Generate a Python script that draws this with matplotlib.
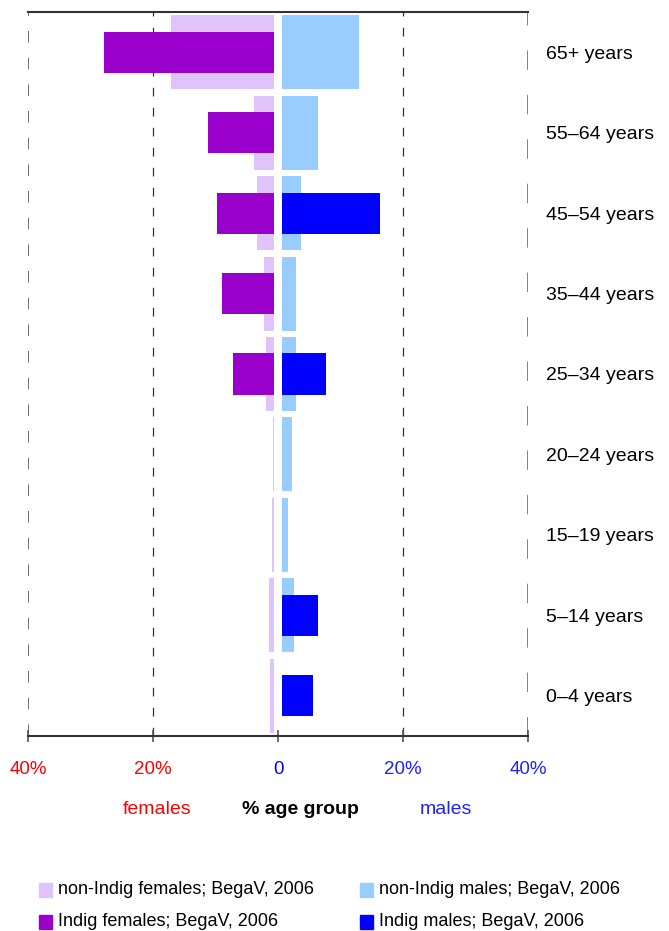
import matplotlib.pyplot as plt
import numpy as np

plt.rcParams['font.family'] = ['Liberation Sans', 'DejaVu Sans']

ages = ["0–4 years", "5–14 years", "15–19 years", "20–24 years", "25–34 years",
        "35–44 years", "45–54 years", "55–64 years", "65+ years"]
# percent of age group, bottom (0-4) to top (65+)
nonindig_f = [0.65, 0.8, 0.35, 0.2, 1.3, 1.6, 2.8, 3.2, 16.5]
indig_f = [0, 0, 0, 0, 6.6, 8.4, 9.1, 10.6, 27.2]
nonindig_m = [0.05, 1.9, 1.0, 1.55, 2.2, 2.2, 3.0, 5.7, 12.3]
indig_m = [5.0, 5.7, 0, 0, 7.1, 0, 15.7, 0, 0]

c_nf = '#dfc3fb'
c_if = '#9900cc'
c_nm = '#99ccff'
c_im = '#0000ff'

gap = 0.64
y = np.arange(len(ages))

fig = plt.figure(figsize=(6.69, 9.31), dpi=100)
ax = fig.add_axes([28 / 669, 1 - 736 / 931, 500 / 669, 724 / 931])

ax.barh(y, -np.array(nonindig_f), left=-gap, height=0.92, color=c_nf, zorder=2)
ax.barh(y, -np.array(indig_f), left=-gap, height=0.51, color=c_if, zorder=3)
ax.barh(y, nonindig_m, left=gap, height=0.92, color=c_nm, zorder=2)
ax.barh(y, indig_m, left=gap, height=0.51, color=c_im, zorder=3)

for xv in [-20, 20]:
    ax.axvline(xv, color='#333333', lw=0.9, dashes=(7, 9), zorder=1)
ax.axvline(-40, color='#555555', lw=1.2, dashes=(7, 9), zorder=1)
ax.axvline(40, color='#777777', lw=2.0, dashes=(7, 9), zorder=1)

ax.set_xlim(-40, 40)
ax.set_ylim(-0.5, len(ages) - 0.5)

for s in ['left', 'right']:
    ax.spines[s].set_visible(False)
ax.spines['top'].set_color('#333333')
ax.spines['top'].set_linewidth(1.5)
ax.spines['bottom'].set_color('#333333')
ax.spines['bottom'].set_linewidth(1.5)

ax.set_xticks([-40, -20, 0, 20, 40])
ax.set_xticklabels(['40%', '20%', '0', '20%', '40%'], fontsize=13.5)
ax.tick_params(axis='x', direction='inout', length=8, width=1.2, color='#555555', pad=14)
for lab, col in zip(ax.get_xticklabels(), ['#ff0000', '#ff0000', '#0000ff', '#2020ff', '#2020ff']):
    lab.set_color(col)

ax.yaxis.tick_right()
ax.set_yticks(y)
ax.set_yticklabels(ages, fontsize=14)
ax.tick_params(axis='y', length=0, pad=13)

fig.text(157 / 669, 1 - 810 / 931, 'females', color='#ff0000', fontsize=14, ha='center', va='center')
fig.text(300 / 669, 1 - 810 / 931, '% age group', color='black', fontsize=14, fontweight='bold', ha='center', va='center')
fig.text(446 / 669, 1 - 810 / 931, 'males', color='#2020ff', fontsize=14, ha='center', va='center')

legend_items = [
    ('non-Indig females; BegaV, 2006', c_nf, 39, 890),
    ('non-Indig males; BegaV, 2006', c_nm, 360, 890),
    ('Indig females; BegaV, 2006', c_if, 39, 922),
    ('Indig males; BegaV, 2006', c_im, 360, 922),
]
for label, col, px, py in legend_items:
    fig.patches.append(plt.Rectangle((px / 669, 1 - (py + 7) / 931), 13 / 669, 14 / 931,
                                     transform=fig.transFigure, color=col))
    fig.text((px + 19) / 669, 1 - py / 931, label, fontsize=13, ha='left', va='center')

fig.savefig('out.png', dpi=100)
